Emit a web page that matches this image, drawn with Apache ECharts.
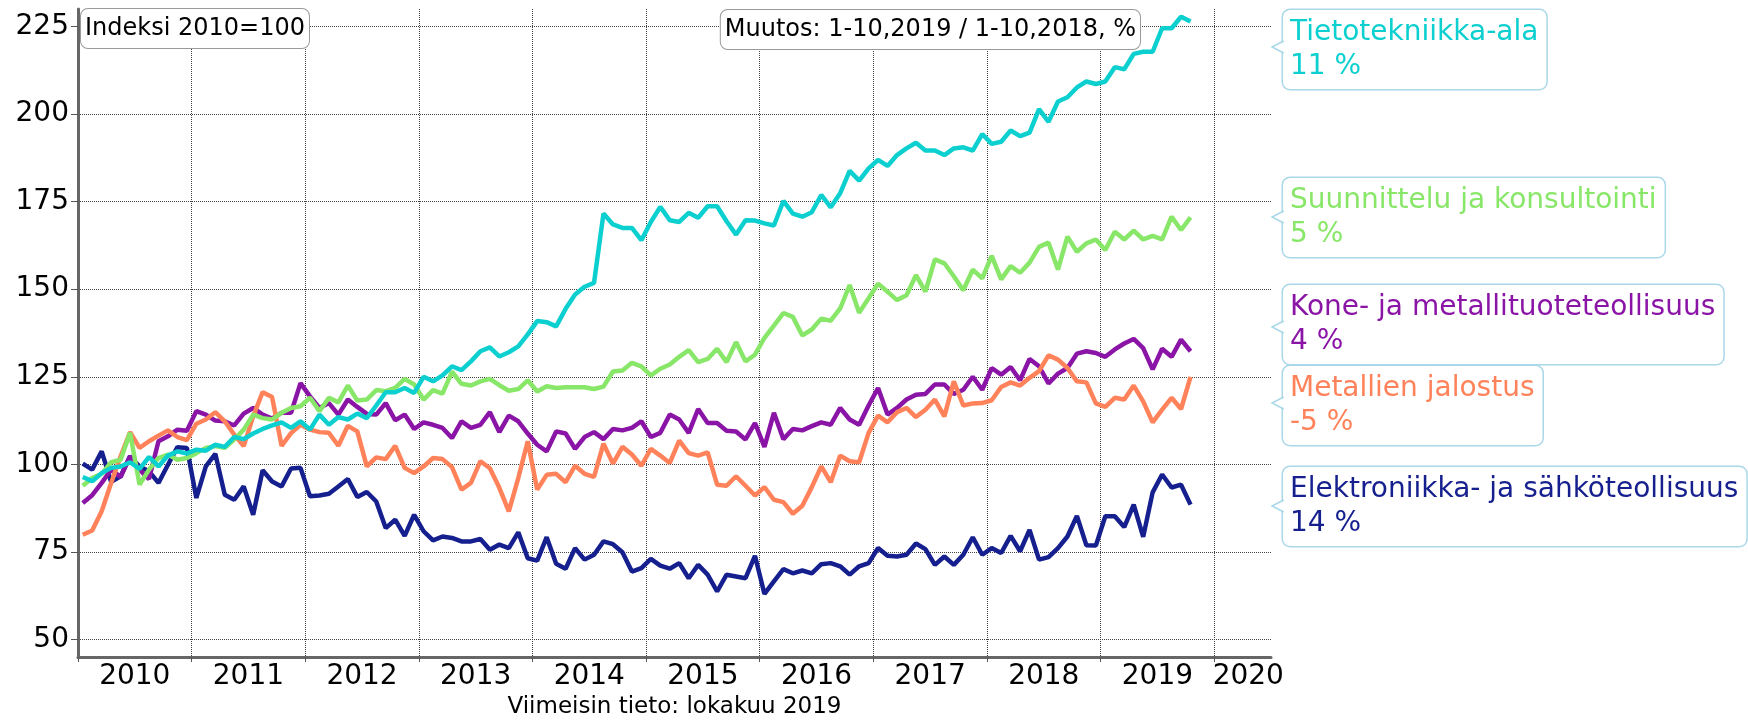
<!DOCTYPE html>
<html>
<head>
<meta charset="utf-8">
<title>Indeksi 2010=100</title>
<script src="https://cdn.jsdelivr.net/npm/echarts/dist/echarts.min.js"></script>
<style>
  html, body { margin: 0; padding: 0; background: #fff; }
  #chart { width: 1748px; height: 722px; }
</style>
</head>
<body>
<div id="chart"></div>
<script>
// series, bottom to top in draw order
var seriesNames = ['Elektroniikka- ja sähköteollisuus', 'Kone- ja metallituoteteollisuus',
	'Metallien jalostus', 'Suunnittelu ja konsultointi', 'Tietotekniikka-ala'];
var seriesColors = ['#151f8e', '#8a14a6', '#ff825a', '#88e668', '#0ccfcf'];
var changes = ['14 %', '4 %', '-5 %', '5 %', '11 %'];

// monthly index values, 1/2010 - 10/2019
var elektroniikka = [100.2, 98.5, 103.7, 95, 96.6, 102.3, 99.4, 98, 94.7, 99.9, 104.9, 104.7,
	90.4, 99.4, 103, 91.3, 89.9, 93.7, 85.6, 98.3, 95.1, 93.7, 98.8, 99,
	90.9, 91.1, 91.6, 93.7, 95.8, 90.7, 92.1, 89.4, 81.8, 84.2, 79.6, 85.6,
	80.9, 78.3, 79.4, 79, 78, 78, 78.7, 75.6, 77.1, 76.1, 80.6, 73.2,
	72.5, 79.2, 71.6, 70.2, 76.1, 72.8, 74.2, 78, 77.2, 74.9, 69.4, 70.4,
	73, 71.1, 70.2, 71.8, 67.5, 71.3, 68.5, 63.7, 68.5, 68, 67.5, 73.9,
	63, 66.6, 70.1, 68.9, 69.7, 68.9, 71.5, 71.8, 70.9, 68.5, 70.9, 71.8,
	76.1, 73.9, 73.7, 74.2, 77.4, 75.8, 71.3, 73.7, 71.3, 74.2, 79.2, 74.2,
	76.1, 74.7, 79.6, 75.2, 81.3, 72.8, 73.5, 76.1, 79.4, 85.3, 76.9, 76.8,
	85.2, 85.2, 82.1, 88.5, 79.3, 92, 97.1, 93.4, 94.2, 88.5];
var kone = [89, 91.2, 94.7, 98.5, 96.4, 102.3, 98.5, 95.8, 106.6, 108, 109.9, 109.6,
	115.2, 114.2, 112.5, 112.3, 111.1, 114.5, 116.1, 114.2, 113.1, 114.7, 114.7, 123.2,
	119.4, 116.1, 117.5, 114.2, 118.5, 116.4, 114.4, 114.2, 117.5, 112.6, 114.2, 110.1,
	112, 111.3, 110.4, 107.5, 112.3, 110.4, 111.3, 114.9, 109.2, 113.9, 112.3, 108.8,
	105.6, 103.7, 109.4, 108.8, 104.4, 107.8, 109.2, 107.2, 110.1, 109.7, 110.4, 112.3,
	107.8, 109, 114.2, 112.8, 109, 115.8, 111.8, 111.8, 109.6, 109.4, 107.1, 111.8,
	105, 114.7, 107.2, 110.1, 109.7, 110.9, 112, 111.3, 116.1, 112.8, 111.3, 116.8,
	121.8, 114.2, 116.1, 118.5, 119.9, 120.1, 122.8, 122.8, 120.1, 121.3, 125, 121.3,
	127.5, 125.6, 127.8, 124, 130.1, 128, 123.1, 125.9, 127.5, 131.6, 132.3, 131.8,
	130.7, 132.8, 134.5, 135.8, 133.2, 127.1, 133, 130.7, 135.6, 132.3];
var metallit = [79.9, 81.1, 86.6, 94.7, 102.3, 109.2, 104.7, 106.6, 108.2, 109.7, 107.8, 106.9,
	111.6, 112.8, 114.9, 112.3, 108.5, 105.2, 113.7, 120.6, 119.2, 105.3, 108.9, 111.3,
	109.9, 109.2, 109, 105.3, 111, 109.4, 99.4, 102, 101.5, 105.3, 99, 97.5,
	99.4, 101.8, 101.5, 99.2, 92.8, 94.7, 100.9, 98.9, 93.3, 86.6, 96.1, 106.6,
	92.8, 97, 97.3, 94.9, 99.6, 97.3, 96.4, 105.9, 100.2, 105, 102.8, 99.6,
	104.4, 102.5, 100.4, 106.8, 103.2, 102.5, 103.4, 94.2, 93.9, 96.6, 93.9, 91.1,
	93.5, 89.9, 89.2, 85.9, 88.2, 93.5, 99.4, 94.9, 102.5, 100.9, 100.6, 109,
	113.9, 112, 114.9, 116.1, 113.5, 115.6, 118.5, 113.7, 123.7, 116.8, 117.4, 117.5,
	118.3, 122.1, 123.4, 122.5, 124.7, 126.6, 131.1, 129.9, 127.5, 123.7, 123.4, 117.4,
	116.4, 119, 118.5, 122.5, 118, 112, 115.6, 119, 115.8, 125];
var suunnittelu = [93.9, 96.1, 97.3, 100.6, 101.3, 109, 94.2, 98.5, 101.8, 102.8, 101.3, 101.8,
	103.2, 104.7, 105.2, 104.7, 107.1, 109.9, 114.2, 113.2, 112.8, 114.7, 116.1, 116.6,
	119, 115.2, 119, 117.7, 122.5, 118.2, 118.5, 121.2, 120.9, 121.8, 124.4, 122.8,
	118.5, 121.2, 120.2, 126.5, 123, 122.5, 123.7, 124.4, 122.6, 121, 121.5, 124,
	120.8, 122.3, 121.8, 122, 122, 122, 121.5, 122.2, 126.5, 126.8, 129, 128,
	125.4, 127.3, 128.5, 130.7, 132.6, 129.2, 130.1, 133, 129.2, 134.9, 129.4, 131.3,
	136.1, 139.6, 143.2, 142.1, 136.8, 138.5, 141.6, 141, 144.5, 151.2, 143.3, 147.4,
	151.6, 149.3, 146.9, 148.3, 154, 149.3, 158.5, 157.4, 153.7, 149.7, 155.6, 153.1,
	159.5, 152.8, 156.6, 154.7, 157.6, 162.1, 163.3, 155.6, 165, 160.7, 163.1, 164.2,
	161.2, 166.4, 164.2, 166.7, 164.2, 165.2, 164.2, 170.7, 166.9, 170.5];
var tietotekniikka = [96.4, 95.2, 97.5, 99, 99.4, 100.6, 98.7, 102.1, 99.4, 102.5, 103.7, 103.1,
	104.2, 103.9, 105.6, 105, 107.8, 107.2, 108.8, 110.1, 111.1, 112, 110.4, 112.3,
	109.9, 114.2, 111.3, 113.5, 112.8, 114.5, 113.2, 116.8, 120.6, 120.6, 121.8, 120.4,
	125, 123.7, 125.4, 128, 126.9, 129.4, 132.3, 133.4, 130.8, 132, 133.7, 137.1,
	140.9, 140.6, 139.4, 144.4, 148.5, 150.7, 151.8, 171.6, 168.5, 167.5, 167.5, 164,
	169.2, 173.5, 169.7, 169.2, 171.8, 170.4, 173.7, 173.7, 169.4, 165.6, 169.7, 169.6,
	168.8, 168.2, 175.2, 171.6, 170.7, 172, 176.9, 173.4, 177.4, 183.8, 181, 184.5,
	186.9, 185.2, 188.3, 190.2, 191.8, 189.6, 189.6, 188.3, 190.2, 190.5, 189.6, 194.3,
	191.5, 192.1, 195.3, 193.7, 194.7, 201.4, 197.8, 203.6, 204.8, 207.6, 209.3, 208.6,
	209.3, 213.4, 212.8, 217.2, 217.8, 217.8, 224.5, 224.5, 227.8, 226.4];

var values = [elektroniikka, kone, metallit, suunnittelu, tietotekniikka];

var yTicks = [50, 75, 100, 125, 150, 175, 200, 225];
var yearTicks = [2010, 2011, 2012, 2013, 2014, 2015, 2016, 2017, 2018, 2019, 2020];
// year labels sit between the year ticks
var yearLabelPos = [2010.5, 2011.5, 2012.5, 2013.5, 2014.5, 2015.5, 2016.5, 2017.5, 2018.5, 2019.5, 2020.3];

// months 2010-01 ... 2019-10, placed at mid-month
var months = [];
for (var y = 2010; y <= 2019; y++) {
	for (var m = 1; m <= 12; m++) {
		if (y === 2019 && m > 10) break;
		months.push(y + '-' + (m < 10 ? '0' + m : m));
	}
}
function monthToX(s) {
	var p = s.split('-');
	return +p[0] + (+p[1] - 0.5) / 12;
}

var FONT = 'DejaVu Sans, Verdana, sans-serif';

// callout boxes on the right (layout, top to bottom)
var callouts = [
	{ idx: 4, top: 10, tip: 47 },
	{ idx: 3, top: 178, tip: 217 },
	{ idx: 1, top: 285, tip: 327 },
	{ idx: 2, top: 366, tip: 403 },
	{ idx: 0, top: 467, tip: 506 }
];

function buildGraphic() {
	var g = [];
	var boxLeft = 1283, tipX = 1272, border = '#a9d8e8';
	callouts.forEach(function (c) {
		g.push({
			type: 'text', x: boxLeft, y: c.top, z: 10,
			style: {
				text: seriesNames[c.idx] + '\n' + changes[c.idx],
				fill: seriesColors[c.idx],
				fontSize: 28, fontFamily: FONT, lineHeight: 34,
				backgroundColor: '#fff', borderColor: border, borderWidth: 1.5,
				borderRadius: 7, padding: [6, 8, 5, 7]
			}
		});
		g.push({
			type: 'polygon', z: 11,
			shape: { points: [[boxLeft + 3, c.tip - 6], [tipX, c.tip], [boxLeft + 3, c.tip + 6]] },
			style: { fill: '#fff', stroke: null }
		});
		g.push({
			type: 'polyline', z: 12,
			shape: { points: [[boxLeft + 0.75, c.tip - 6], [tipX, c.tip], [boxLeft + 0.75, c.tip + 6]] },
			style: { stroke: border, lineWidth: 1.5, fill: null }
		});
	});
	var boxStyle = {
		fill: '#000', fontSize: 24, fontFamily: FONT, lineHeight: 31,
		backgroundColor: '#fff', borderColor: '#9a9a9a', borderWidth: 1,
		borderRadius: 7, padding: [4, 4, 4, 4]
	};
	g.push({ type: 'text', x: 81, y: 9, z: 10,
		style: Object.assign({ text: 'Indeksi 2010=100' }, boxStyle) });
	g.push({ type: 'text', right: 607, top: 9, z: 10,
		style: Object.assign({ text: 'Muutos: 1-10,2019 / 1-10,2018, %' }, boxStyle) });
	return g;
}

function Chart(divId) {
	var myChart = echarts.init(document.getElementById(divId));
	var chartOption;

	function initOption() {
		var series = seriesNames.map(function (name, k) {
			return {
				name: name,
				type: 'line',
				data: months.map(function (mo, i) { return [monthToX(mo), values[k][i]]; }),
				showSymbol: false,
				symbol: 'none',
				lineStyle: { width: 4.5, color: seriesColors[k] },
				itemStyle: { color: seriesColors[k] },
				z: 3
			};
		});

		chartOption = {
			animation: false,
			backgroundColor: '#fff',
			textStyle: { fontFamily: FONT },
			grid: { left: 78, right: 477, top: 9, bottom: 65, containLabel: false, outerBoundsMode: 'none' },
			xAxis: {
				type: 'value',
				min: 2010,
				max: 2020.5,
				name: 'Viimeisin tieto: lokakuu 2019',
				nameLocation: 'middle',
				nameGap: 38,
				nameTextStyle: { fontSize: 23, color: '#000', fontFamily: FONT },
				axisLine: { show: true, onZero: false, lineStyle: { color: '#666', width: 3 } },
				axisTick: { show: true, customValues: yearTicks, length: 5, lineStyle: { color: '#555', width: 1 } },
				axisLabel: {
					customValues: yearLabelPos,
					formatter: function (v) { return String(Math.floor(v + 1e-6)); },
					fontSize: 28, color: '#000', margin: 6, fontFamily: FONT
				},
				splitLine: { show: true, lineStyle: { type: 'dotted', color: '#444', width: 1 } }
			},
			yAxis: {
				type: 'value',
				min: 45,
				max: 230,
				axisLine: { show: true, lineStyle: { color: '#666', width: 3 } },
				axisTick: { show: true, customValues: yTicks, length: 7, lineStyle: { color: '#555', width: 1 } },
				axisLabel: { customValues: yTicks, fontSize: 28, color: '#000', margin: 9, fontFamily: FONT },
				splitLine: { show: true, lineStyle: { type: 'dotted', color: '#444', width: 1 } }
			},
			graphic: buildGraphic(),
			series: series
		};
	}

	this.draw = function () {
		myChart.setOption(chartOption);
	};

	initOption();
}

var chart = new Chart('chart');
chart.draw();
</script>
</body>
</html>
